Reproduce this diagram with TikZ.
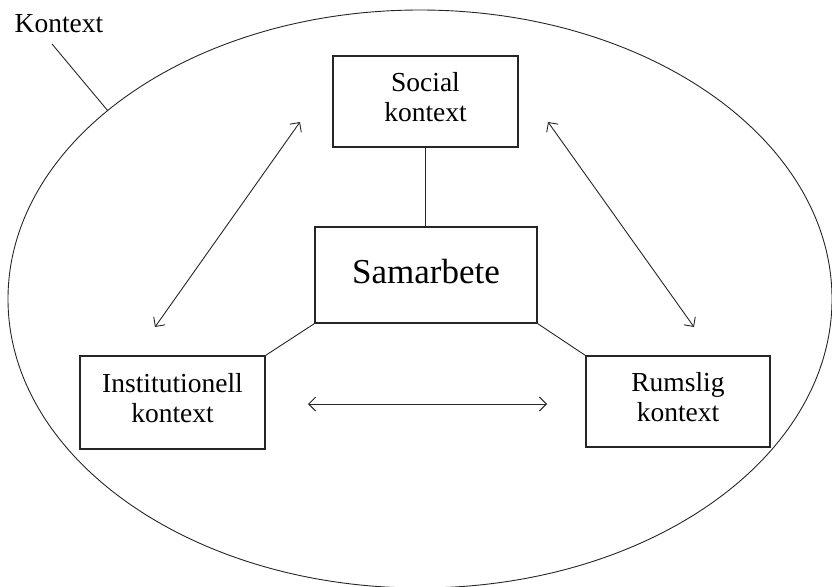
\documentclass[tikz,border=0pt]{standalone}
\usepackage{fontspec}
\setmainfont{Liberation Serif}
\usetikzlibrary{arrows.meta}
\definecolor{ink}{HTML}{262626}
\begin{document}
\begin{tikzpicture}[x=1pt,y=-1pt,
  box/.style={draw=ink,line width=1.2pt,align=center,inner sep=0pt,text depth=9pt,
    font=\fontsize{27.5}{30}\selectfont},
  thin/.style={draw=ink,line width=0.9pt},
  biarrow/.style={thin,{Straight Barb[length=7pt,width=14pt]}-{Straight Barb[length=7pt,width=14pt]}}]
\useasboundingbox (0,0) rectangle (832,586);
\clip (0,0) rectangle (832,586);
% outer ellipse
\draw[thin] (420,299) ellipse [x radius=412, y radius=289];
% label
\node[font=\fontsize{27.5}{30}\selectfont,inner sep=0pt] (kontext) at (59,24) {Kontext};
\coordinate (kp1) at (52,44);
\coordinate (kp2) at (108,111);
\draw[thin] (kp1) -- (kp2);
% boxes
\node[box,minimum width=185pt,minimum height=91pt] (social) at (425.5,101.5) {Social\\kontext};
\node[box,minimum width=222pt,minimum height=96pt,text depth=7pt,font=\fontsize{35}{38}\selectfont] (sam) at (426,275) {Samarbete};
\node[box,minimum width=185pt,minimum height=93pt] (inst) at (172.5,402.5) {Institutionell\\kontext};
\node[box,minimum width=184pt,minimum height=91pt] (rum) at (678,401.5) {Rumslig\\kontext};
% connectors
\draw[thin] (social.south) -- (social.south |- sam.north);
\draw[thin] (sam.south west) -- (inst.north east);
\draw[thin] (sam.south east) -- (rum.north west);
% arrows
\coordinate (a1) at (300,122);
\coordinate (a2) at (155,327);
\coordinate (b1) at (548,122);
\coordinate (b2) at (694,327);
\coordinate (c1) at (308,404);
\coordinate (c2) at (547,404);
\draw[biarrow] (a1) -- (a2);
\draw[biarrow] (b1) -- (b2);
\draw[biarrow] (c1) -- (c2);
\end{tikzpicture}
\end{document}
